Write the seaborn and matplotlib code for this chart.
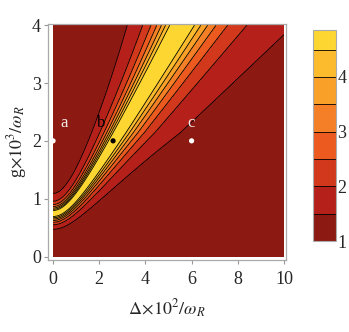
import matplotlib
matplotlib.use("Agg")
import matplotlib.pyplot as plt
import numpy as np
import pandas as pd
import seaborn as sns

# ridge g_peak(D) = sqrt(G0^2 + K2*D^2), Lorentzian in ln(g_peak^2/g^2)
G0 = 0.75
K2 = 0.5085
AMP = 4.2
W_UP = (0.24, 0.033)           # width above the ridge: w = a + b*g
W_LOW = (0.31, 0.07, 0.46)     # width below the ridge: min(a + b*g, cap)

levels = [1.0, 1.5, 2.0, 2.5, 3.0, 3.5, 4.0, 4.5, 5.3]
cbar_top = 4.86
band_colors = ["#8c1a12", "#b5211a", "#d1381c", "#ec5a1f",
               "#f57f26", "#f8a027", "#fbbb2c", "#fdd632"]

point_names = ["a", "b", "c"]
point_x = [0.0, 2.6, 6.0]
point_y = [2.0, 2.0, 2.0]
point_colors = ["white", "black", "white"]
label_x = [0.48, 2.1, 5.97]
label_y = [2.3, 2.3, 2.3]

x_ticks = [0, 2, 4, 6, 8, 10]
y_ticks = [0, 1, 2, 3, 4]
cbar_ticks = [1, 2, 3, 4]

sns.set_theme(style="white")
plt.rcParams["font.family"] = ["Liberation Serif", "DejaVu Serif"]
plt.rcParams["mathtext.fontset"] = "stix"

D, G = np.meshgrid(np.linspace(0, 10, 500), np.linspace(1e-3, 4, 500))
ls = np.log((G0**2 + K2 * D**2) / G**2)
w = np.where(ls < 0, W_UP[0] + W_UP[1] * G,
             np.minimum(W_LOW[0] + W_LOW[1] * G, W_LOW[2]))
F = 1 + AMP / (1 + (ls / w) ** 2)

fig = plt.figure(figsize=(3.49, 3.32), dpi=100)
ax = fig.add_axes([0.1375, 0.2169, 0.682, 0.7108])
cax = fig.add_axes([0.897, 0.274, 0.066, 0.636])

cf = ax.contourf(D, G, F, levels=levels, colors=band_colors)
cs = ax.contour(D, G, F, levels=levels[1:-1], colors="black", linewidths=0.6)

pts = pd.DataFrame({"x": point_x, "y": point_y, "name": point_names})
sns.scatterplot(data=pts, x="x", y="y", hue="name", palette=point_colors,
                s=14, linewidth=0, legend=False, ax=ax, zorder=5)
for name, lx, ly, c in zip(point_names, label_x, label_y, point_colors):
    ax.text(lx, ly, name, color=c, fontsize=12, ha="center", va="center",
            alpha=0.9 if c == "white" else 1)

ax.set_xlim(-0.22, 10.09)
ax.set_ylim(-0.06, 4.02)
ax.set_xticks(x_ticks)
ax.set_yticks(y_ticks)
ax.tick_params(axis="x", pad=5)
ax.tick_params(direction="out", length=3, width=0.8, color="#999999",
               labelsize=13, bottom=True, left=True)
ax.tick_params(axis="y", pad=2)
for sp in ax.spines.values():
    sp.set_color("#aaaaaa")
    sp.set_linewidth(0.9)
ax.set_xlabel(r"$\Delta\!\times\!10^2/\omega_R$", fontsize=13, labelpad=7)
ax.set_ylabel(r"g$\times10^3/\omega_R$", fontsize=13, labelpad=2)

cbar = fig.colorbar(cf, cax=cax, spacing="proportional")
cbar.add_lines(cs)
cbar.ax.set_ylim(levels[0], cbar_top)
cbar.set_ticks(cbar_ticks)
cbar.ax.tick_params(length=0, labelsize=13, pad=1)
cbar.outline.set_edgecolor("#aaaaaa")
cbar.outline.set_linewidth(0.8)

fig.savefig("out.png", dpi=100)
